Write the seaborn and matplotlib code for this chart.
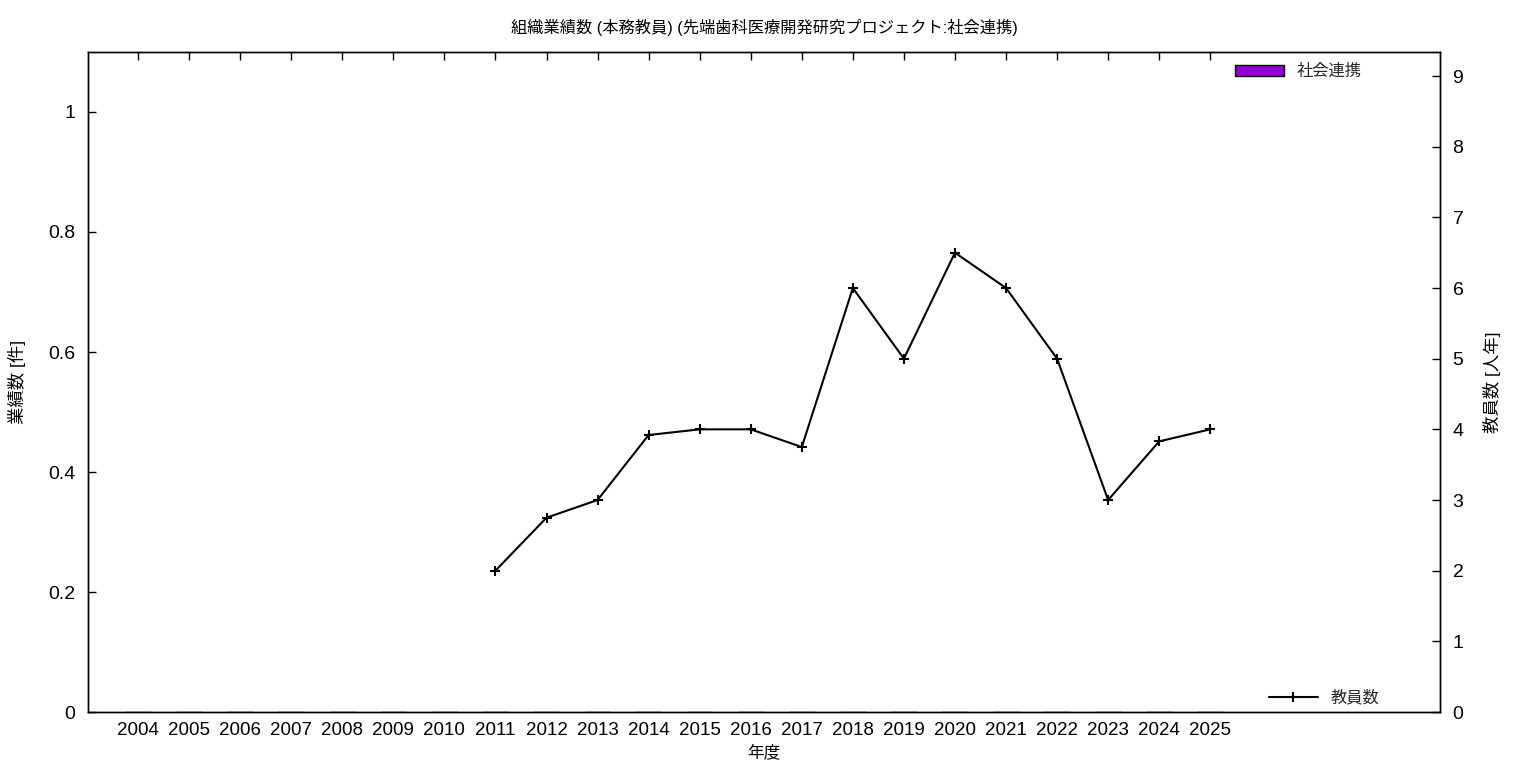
import matplotlib
matplotlib.use("Agg")
import matplotlib.pyplot as plt
import seaborn as sns
import numpy as np
import pandas as pd

# データ
years = [str(y) for y in range(2004, 2026)]
renkei = [0] * len(years)  # 社会連携 (件)
staff_years = ["2011", "2012", "2013", "2014", "2015", "2016", "2017", "2018",
               "2019", "2020", "2021", "2022", "2023", "2024", "2025"]
staff = [2.0, 2.75, 3.0, 3.92, 4.0, 4.0, 3.75, 6.0, 5.0, 6.5, 6.0, 5.0, 3.0, 3.83, 4.0]

sns.set_theme(style="white")
plt.rcParams['font.family'] = ['Liberation Sans', 'Noto Sans CJK JP', 'DejaVu Sans']
plt.rcParams['axes.unicode_minus'] = False

fig = plt.figure(figsize=(15.36, 7.68), dpi=100)
ax = fig.add_axes([0.0573, 0.0729, 0.8802, 0.8594])

bar_df = pd.DataFrame({"年度": years, "件数": renkei})
sns.barplot(data=bar_df, x="年度", y="件数", color="#9400d3", saturation=1, ax=ax,
            edgecolor="black", linewidth=1, width=0.5, label="社会連携")

ax2 = ax.twinx()
pos = [years.index(y) for y in staff_years]
line_df = pd.DataFrame({"pos": pos, "staff": staff})
sns.lineplot(data=line_df, x="pos", y="staff", ax=ax2, color="black",
             linewidth=1.5, marker="+", markersize=7, markeredgewidth=1.5,
             markeredgecolor="black", label="教員数")

ax.set_xlim(-0.98, 25.5)
ax.set_ylim(0, 1.1)
ax2.set_ylim(0, 9.34)
ax.set_yticks(np.arange(0, 1.01, 0.2))
ax.set_yticklabels(["0", "0.2", "0.4", "0.6", "0.8", "1"])
ax2.set_yticks(range(0, 10))

for a in (ax, ax2):
    for s in a.spines.values():
        s.set_color("black")
        s.set_linewidth(1)
ax.tick_params(axis="x", direction="in", top=True, length=6, width=1,
               labelsize=13.5, colors="black", pad=7)
ax.tick_params(axis="y", direction="in", left=True, right=False, length=6,
               width=1, labelsize=14, colors="black", pad=9)
ax2.tick_params(axis="y", direction="in", right=True, length=6, width=1,
                labelsize=14, colors="black", pad=9)

ax.set_xlabel("年度", fontsize=12, color="black", labelpad=4)
ax.set_ylabel("業績数 [件]", fontsize=12.5, color="black", labelpad=16)
ax2.set_ylabel("教員数 [人年]", fontsize=12.5, color="black", labelpad=14)
ax2.set_xlabel("")
ax.set_title("組織業績数 (本務教員) (先端歯科医療開発研究プロジェクト:社会連携)",
             fontsize=11.7, color="black", pad=14)

leg1 = ax.legend(loc="upper right", bbox_to_anchor=(0.953, 1.004), frameon=False,
                 fontsize=11.7, handlelength=3.0, handleheight=0.6)
leg2 = ax2.legend(loc="lower right", bbox_to_anchor=(0.966, -0.012), frameon=False,
                  fontsize=11.7, handlelength=3.0)

fig.savefig("out.png", dpi=100)
